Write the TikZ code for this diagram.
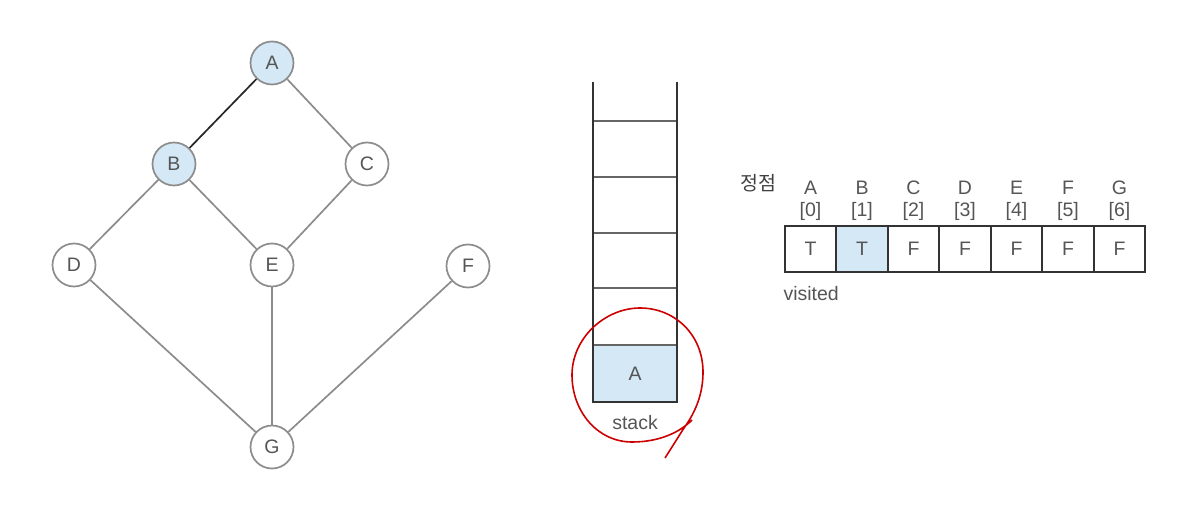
\documentclass[tikz,border=0pt]{standalone}
\usepackage{fontspec}
\setmainfont{Liberation Sans}
\newfontfamily\krfont{Noto Sans CJK KR}
\usetikzlibrary{positioning}

\definecolor{visit}{HTML}{D5E8F6}
\definecolor{edge}{HTML}{8C8C8C}
\definecolor{txt}{HTML}{555555}

\tikzset{
  vertex/.style={circle,draw=edge,line width=1.7pt,fill=white,minimum size=43pt,inner sep=0pt},
  seen/.style={vertex,fill=visit},
  link/.style={draw=edge,line width=1.7pt},
  cell/.style={draw=black!80,line width=1.7pt,minimum width=51.5pt,minimum height=46pt,inner sep=0pt},
  wall/.style={draw=black!80,line width=2pt}
}
\tikzstyle{every node}=[color=txt,font=\fontsize{19.5}{22}\selectfont]

\begin{document}
\begin{tikzpicture}[x=1pt,y=-1pt]
    \useasboundingbox (0,0) rectangle (1196,518);
    % graph
    \node[seen]   (A) at (272,63)  {A};
    \node[seen]   (B) at (174,164) {B};
    \node[vertex] (C) at (367,164) {C};
    \node[vertex] (D) at (74,265)  {D};
    \node[vertex] (E) at (272,265) {E};
    \node[vertex] (F) at (468,266) {F};
    \node[vertex] (G) at (272,447) {G};
    \draw [line width=1.7pt,black!85] (A) -- (B);
    \draw [link] (A) -- (C);
    \draw [link] (B) -- (D);
    \draw [link] (B) -- (E);
    \draw [link] (C) -- (E);
    \draw [link] (D) -- (G);
    \draw [link] (E) -- (G);
    \draw [link] (F) -- (G);
    % stack
    \node[fill=visit,minimum width=84pt,minimum height=57pt,inner sep=0pt] (S0) at (635,373.5) {A};
    \draw [link,draw=black!60] (593,121) -- (677,121);
    \draw [link,draw=black!60] (593,177) -- (677,177);
    \draw [link,draw=black!60] (593,233) -- (677,233);
    \draw [link,draw=black!60] (593,288) -- (677,288);
    \draw [link,draw=black!60] (S0.north west) -- (S0.north east);
    \draw [wall] (593,82) -- (593,402) -- (677,402) -- (677,82);
    \node (stk) at (635,423) {stack};
    \draw [red!80!black,line width=1.6pt] (665,458) -- (684,428)
        .. controls (697,410) and (703,392) .. (703,372)
        .. controls (703,335) and (675,308) .. (640,308)
        .. controls (605,308) and (572,338) .. (572,375)
        .. controls (572,412) and (598,442) .. (632,442)
        .. controls (660,442) and (680,432) .. (692,420);
    % visited array
    \node (key) at (758,183) {\krfont\color{black!75}정점};
    \node[cell]            (c0) at (810.5,249)  {T};
    \node[cell,fill=visit] (c1) at (862,249)    {T};
    \node[cell]            (c2) at (913.5,249)  {F};
    \node[cell]            (c3) at (965,249)    {F};
    \node[cell]            (c4) at (1016.5,249) {F};
    \node[cell]            (c5) at (1068,249)   {F};
    \node[cell]            (c6) at (1119.5,249) {F};
    \node[align=center,above=1pt of c0] (l0) {A\\{[}0{]}};
    \node[align=center,above=1pt of c1] (l1) {B\\{[}1{]}};
    \node[align=center,above=1pt of c2] (l2) {C\\{[}2{]}};
    \node[align=center,above=1pt of c3] (l3) {D\\{[}3{]}};
    \node[align=center,above=1pt of c4] (l4) {E\\{[}4{]}};
    \node[align=center,above=1pt of c5] (l5) {F\\{[}5{]}};
    \node[align=center,above=1pt of c6] (l6) {G\\{[}6{]}};
    \node[anchor=west] (vis) at (780,294) {visited};
\end{tikzpicture}
\end{document}
